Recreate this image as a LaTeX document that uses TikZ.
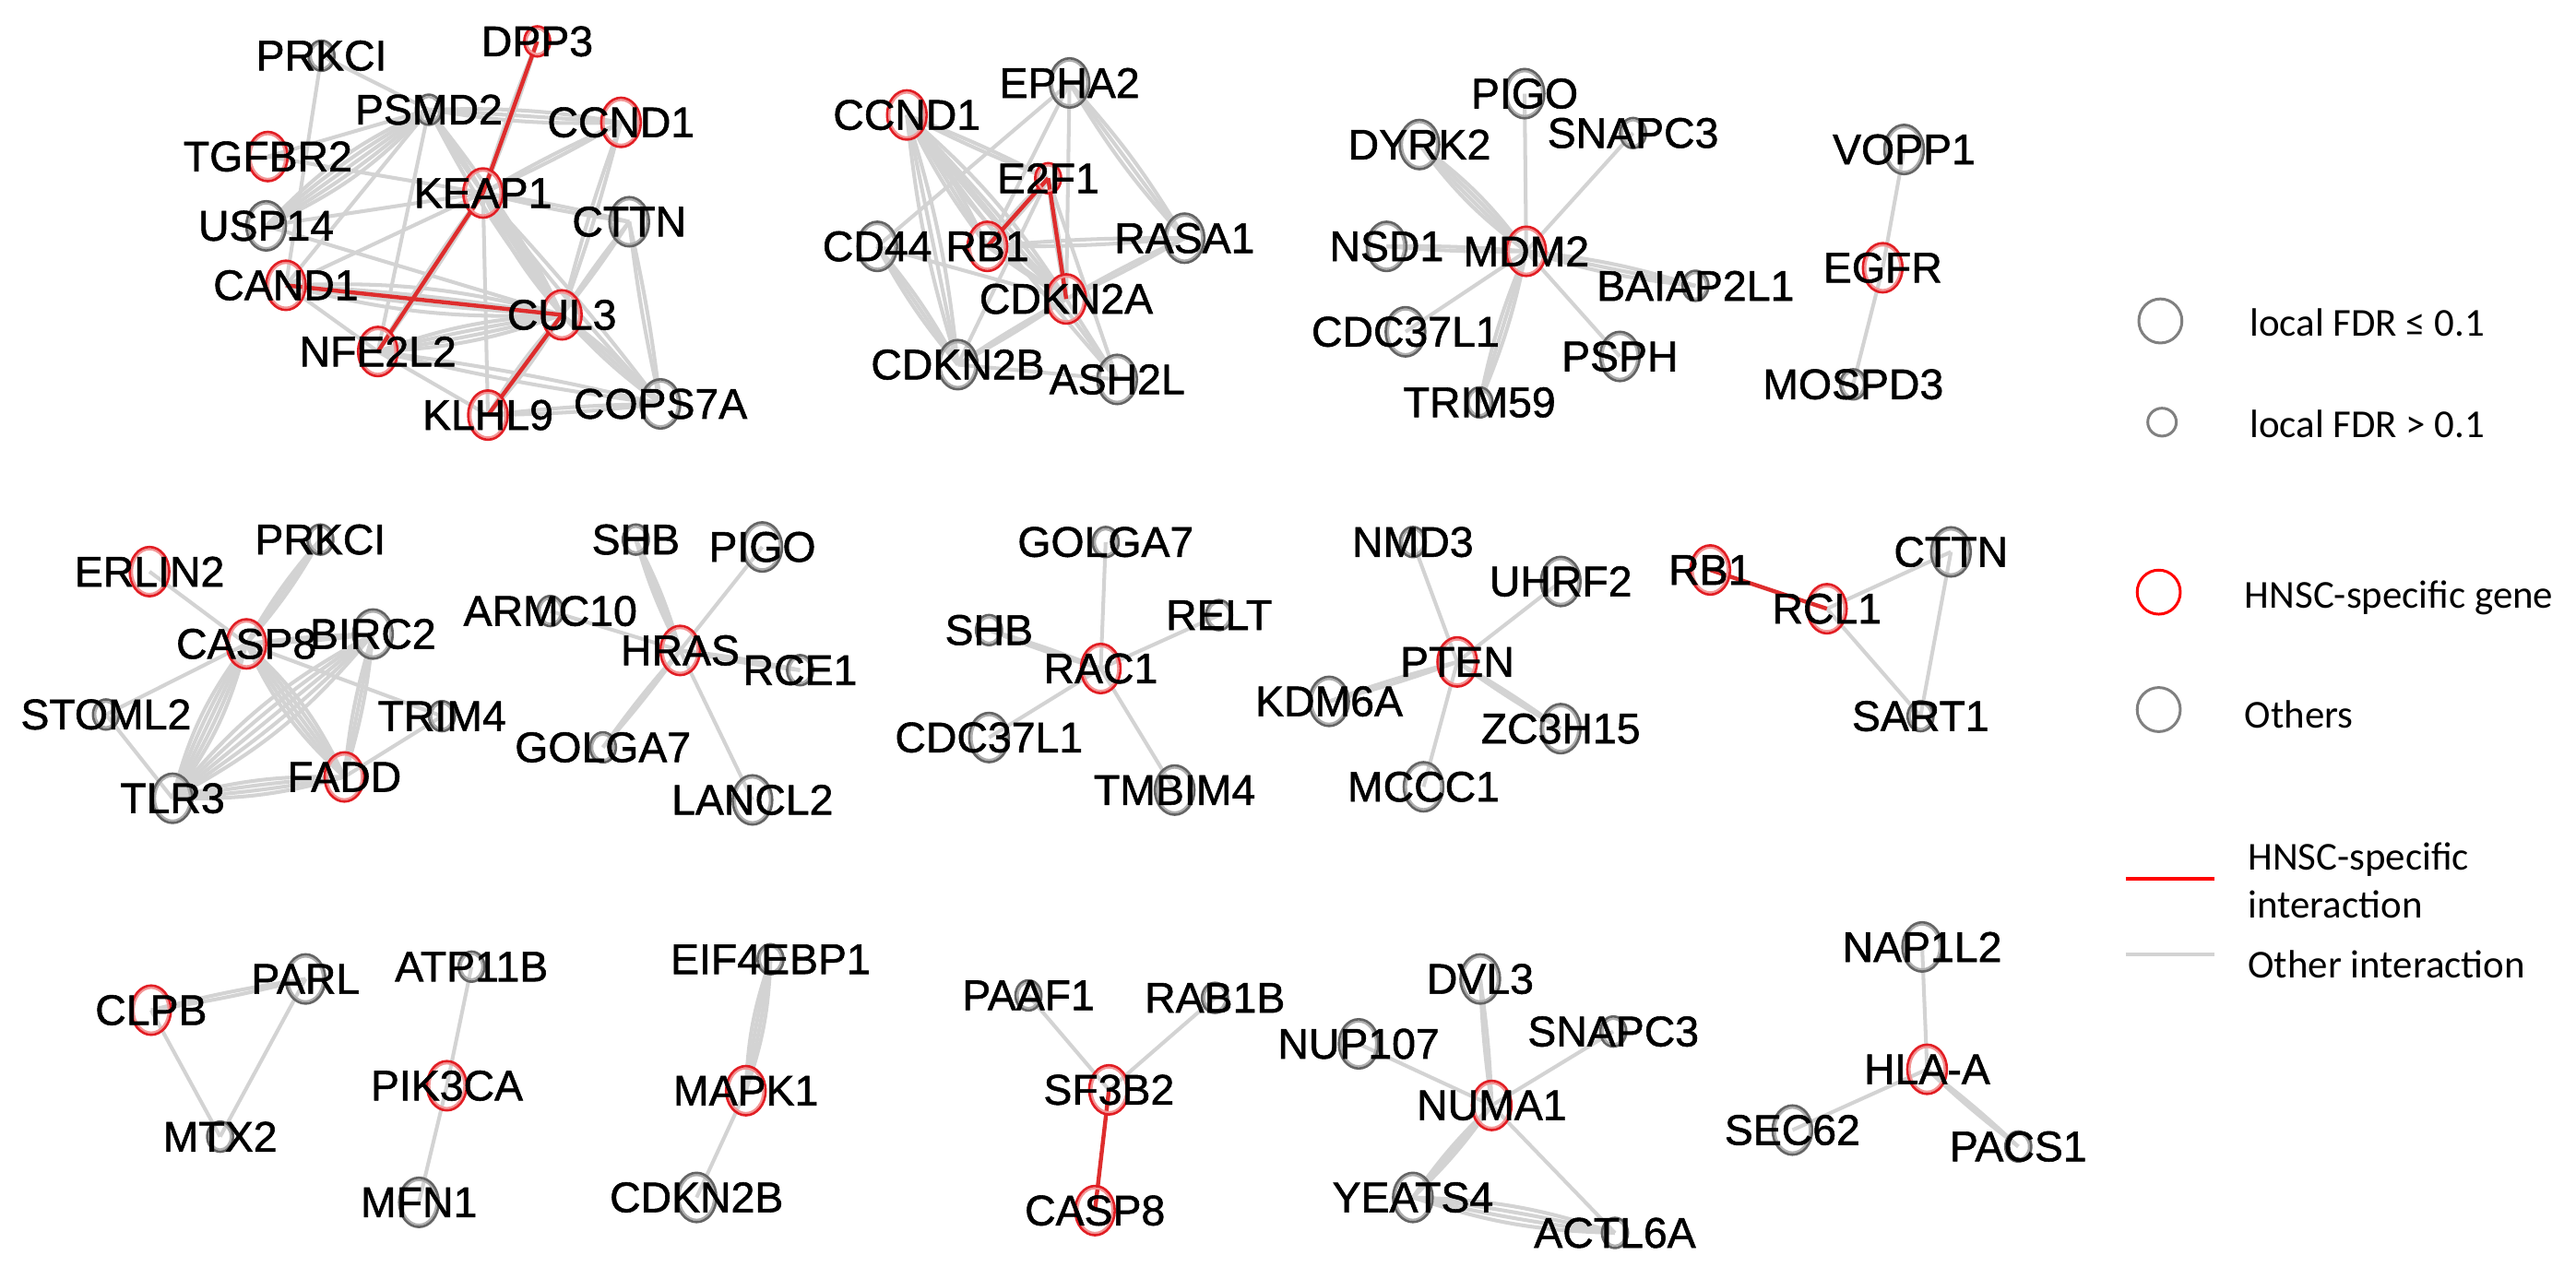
\documentclass[tikz,border=0pt]{standalone}
\usepackage{fontspec}
\setmainfont{Carlito}
\newfontfamily\labfont[FakeBold=1.2]{Liberation Sans}
\usetikzlibrary{shapes.geometric}
\pgfdeclarelayer{bg}
\pgfsetlayers{bg,main}
\definecolor{ngo}{RGB}{100,100,100}
\definecolor{ngi}{RGB}{175,175,175}
\definecolor{nro}{RGB}{226,30,36}
\definecolor{nri}{RGB}{242,150,150}
\definecolor{eg}{RGB}{211,211,211}
\definecolor{er}{RGB}{222,45,45}
\definecolor{lgr}{RGB}{128,128,128}
\definecolor{lrd}{RGB}{255,0,0}
\tikzset{
  vtx/.style={ellipse, inner sep=0pt, outer sep=0pt, line width=0.75pt},
  L/.style={vtx, minimum width=12.2pt, minimum height=15.2pt},
  S/.style={vtx, minimum width=8pt, minimum height=9.3pt},
  gL/.style={L, draw=ngo, path picture={\draw[ngi, line width=0.65pt] (path picture bounding box.center) ellipse (5.4pt and 6.9pt);}},
  rL/.style={L, draw=nro, path picture={\draw[nri, line width=0.65pt] (path picture bounding box.center) ellipse (5.4pt and 6.9pt);}},
  gS/.style={S, draw=ngo, path picture={\draw[ngi, line width=0.65pt] (path picture bounding box.center) ellipse (3.3pt and 3.95pt);}},
  rS/.style={S, draw=nro, path picture={\draw[nri, line width=0.65pt] (path picture bounding box.center) ellipse (3.3pt and 3.95pt);}},
  lab/.style={inner sep=0pt, font=\labfont\fontsize{13.2}{13.5}\selectfont},
  ge/.style={draw=eg, line width=1.15pt},
  re/.style={draw=er, line width=1.25pt},
  legc/.style={ellipse, inner sep=0pt, outer sep=0pt, line width=0.85pt},
  legbig/.style={legc, minimum width=13.3pt, minimum height=13.6pt},
  legsml/.style={legc, minimum width=8.8pt, minimum height=8.6pt},
  legt/.style={anchor=west, inner sep=0pt, align=left, font=\fontsize{12.2}{15}\selectfont},
}
\newcommand\gene[5]{\node[#4,label={[lab]center:#5}] (#1) at (#2,#3) {};}
\newcommand\ged[3]{\foreach \k in {1,...,#3}{\pgfmathsetmacro\bb{(\k-(#3+1)/2)*5.5}\draw[ge] (#1.center) to[bend left=\bb] (#2.center);}}
\newcommand\rge[2]{\draw[re] (#1.center) -- (#2.center);}
\begin{document}
\begin{tikzpicture}[x=0.017813cm, y=-0.017813cm]
\useasboundingbox (0,0) rectangle (1568,771);
\begin{pgfonlayer}{bg}
\fill[white] (0,0) rectangle (1568,771);
\end{pgfonlayer}
% ---------- cluster 1
\gene{prkcia}{195.7}{33.9}{gS}{PRKCI}
\gene{dpp3}{327}{25.2}{rS}{DPP3}
\gene{psmd2}{261}{66.8}{gS}{PSMD2}
\gene{ccnda}{378}{74.5}{rL}{CCND1}
\gene{tgfbr2}{163}{95.3}{rL}{TGFBR2}
\gene{keap1}{294}{117.5}{rL}{KEAP1}
\gene{usp14}{162}{137.5}{gL}{USP14}
\gene{cttna}{383}{135}{gL}{CTTN}
\gene{cand1}{174}{173.7}{rL}{CAND1}
\gene{cul3}{342}{191.7}{rL}{CUL3}
\gene{nfe2l2}{230}{214}{rL}{NFE2L2}
\gene{klhl9}{297}{252.7}{rL}{KLHL9}
\gene{cops7a}{402}{245.9}{gL}{COPS7A}
% ---------- cluster 2
\gene{epha2}{651}{50.5}{gL}{EPHA2}
\gene{ccndb}{552}{70}{rL}{CCND1}
\gene{e2f1}{638}{108.5}{rS}{E2F1}
\gene{cd44}{534}{150}{gL}{CD44}
\gene{rb1a}{601}{150}{rL}{RB1}
\gene{rasa1}{721}{145}{gL}{RASA1}
\gene{cdkn2a}{649}{182}{rL}{CDKN2A}
\gene{cdkn2ba}{583}{222}{gL}{CDKN2B}
\gene{ash2l}{680}{231}{gL}{ASH2L}
% ---------- cluster 3
\gene{pigoa}{928}{57}{gL}{PIGO}
\gene{dyrk2}{864}{88}{gL}{DYRK2}
\gene{snapca}{994}{81}{gS}{SNAPC3}
\gene{nsd1}{844}{150}{gL}{NSD1}
\gene{mdm2}{929}{153}{rL}{MDM2}
\gene{baiap}{1032}{174}{gS}{BAIAP2L1}
\gene{cdca}{855.5}{202}{gL}{CDC37L1}
\gene{psph}{986}{217}{gL}{PSPH}
\gene{trim59}{900.6}{245}{gS}{TRIM59}
\gene{vopp1}{1159}{91}{gL}{VOPP1}
\gene{egfr}{1146}{163}{rL}{EGFR}
\gene{mospd3}{1128}{234}{gS}{MOSPD3}
% ---------- row 2
\gene{erlin2}{91}{348}{rL}{ERLIN2}
\gene{prkcib}{195}{328.5}{gS}{PRKCI}
\gene{casp8a}{150}{392}{rL}{CASP8}
\gene{birc2}{227}{386}{gL}{BIRC2}
\gene{stoml2}{64.5}{435}{gS}{STOML2}
\gene{trim4}{269}{436}{gS}{TRIM4}
\gene{tlr3}{105}{486}{gL}{TLR3}
\gene{fadd}{209.6}{473}{rL}{FADD}
\gene{shba}{387}{328.5}{gS}{SHB}
\gene{pigob}{464}{333}{gL}{PIGO}
\gene{armc10}{335}{372}{gS}{ARMC10}
\gene{hras}{414}{396}{rL}{HRAS}
\gene{rce1}{487}{408}{gS}{RCE1}
\gene{golgaa}{367}{455}{gS}{GOLGA7}
\gene{lancl2}{458}{487}{gL}{LANCL2}
\gene{golgab}{673}{330}{gS}{GOLGA7}
\gene{shbb}{602}{383.6}{gS}{SHB}
\gene{relt}{742}{374.5}{gS}{RELT}
\gene{rac1}{670}{407}{rL}{RAC1}
\gene{cdcb}{602}{449}{gL}{CDC37L1}
\gene{tmbim4}{715}{481}{gL}{TMBIM4}
\gene{nmd3}{860}{330}{gS}{NMD3}
\gene{uhrf2}{950}{354}{gL}{UHRF2}
\gene{pten}{887}{403}{rL}{PTEN}
\gene{kdm6a}{809}{427}{gL}{KDM6A}
\gene{zc3h15}{950}{443.6}{gL}{ZC3H15}
\gene{mccc1}{866.5}{479}{gL}{MCCC1}
\gene{rb1b}{1041}{347}{rL}{RB1}
\gene{rcl1}{1112}{370.6}{rL}{RCL1}
\gene{cttnb}{1187.5}{336}{gL}{CTTN}
\gene{sart1}{1169}{436}{gS}{SART1}
% ---------- row 3
\gene{parl}{186}{596}{gL}{PARL}
\gene{clpb}{92}{615}{rL}{CLPB}
\gene{mtx2}{134}{692}{gS}{MTX2}
\gene{atp11b}{287}{588.5}{gS}{ATP11B}
\gene{pik3ca}{272}{661}{rL}{PIK3CA}
\gene{mfn1}{255}{732}{gL}{MFN1}
\gene{eif4ebp1}{469}{584}{gS}{EIF4EBP1}
\gene{mapk1}{454}{664}{rL}{MAPK1}
\gene{cdkn2bb}{424}{729}{gL}{CDKN2B}
\gene{paaf1}{626}{606}{gS}{PAAF1}
\gene{rab1b}{739.5}{607.5}{gS}{RAB1B}
\gene{sf3b2}{675}{663.5}{rL}{SF3B2}
\gene{casp8b}{666.5}{737}{rL}{CASP8}
\gene{dvl3}{901}{596}{gL}{DVL3}
\gene{nup107}{827}{635.5}{gL}{NUP107}
\gene{snapcb}{982}{628}{gS}{SNAPC3}
\gene{numa1}{908}{673}{rL}{NUMA1}
\gene{yeats4}{860}{729}{gL}{YEATS4}
\gene{actl6a}{983}{750.6}{gS}{ACTL6A}
\gene{nap1l2}{1170}{576.5}{gL}{NAP1L2}
\gene{hlaa}{1173}{651}{rL}{HLA-A}
\gene{sec62}{1091}{688}{gL}{SEC62}
\gene{pacs1}{1228.5}{698}{gS}{PACS1}
% ---------- edges
\begin{pgfonlayer}{bg}
% cluster 1
\ged{prkcia}{psmd2}{1}
\ged{prkcia}{cand1}{1}
\ged{psmd2}{tgfbr2}{1}
\ged{psmd2}{usp14}{5}
\ged{psmd2}{cand1}{1}
\ged{psmd2}{ccnda}{3}
\ged{psmd2}{keap1}{2}
\ged{psmd2}{cul3}{3}
\ged{psmd2}{nfe2l2}{1}
\ged{tgfbr2}{keap1}{1}
\ged{usp14}{keap1}{1}
\ged{usp14}{cul3}{1}
\ged{cand1}{keap1}{1}
\ged{cand1}{cul3}{4}
\ged{cand1}{nfe2l2}{1}
\ged{keap1}{nfe2l2}{2}
\ged{keap1}{cul3}{4}
\ged{keap1}{klhl9}{1}
\ged{keap1}{cttna}{2}
\ged{keap1}{ccnda}{2}
\ged{keap1}{dpp3}{2}
\ged{ccnda}{cul3}{2}
\ged{cttna}{cul3}{2}
\ged{cttna}{cops7a}{2}
\ged{cul3}{cops7a}{3}
\ged{cul3}{nfe2l2}{4}
\ged{cul3}{klhl9}{3}
\ged{nfe2l2}{cops7a}{2}
\ged{nfe2l2}{klhl9}{1}
\ged{klhl9}{cops7a}{2}
\ged{keap1}{cops7a}{2}
\rge{cand1}{cul3}
\rge{keap1}{nfe2l2}
\rge{keap1}{dpp3}
\rge{cul3}{klhl9}
% cluster 2
\ged{epha2}{cd44}{1}
\ged{epha2}{rb1a}{1}
\ged{epha2}{cdkn2a}{1}
\ged{epha2}{rasa1}{3}
\ged{ccndb}{cdkn2ba}{3}
\ged{ccndb}{rb1a}{3}
\ged{ccndb}{e2f1}{2}
\ged{ccndb}{cdkn2a}{4}
\ged{ccndb}{ash2l}{2}
\ged{e2f1}{rb1a}{3}
\ged{e2f1}{cdkn2a}{2}
\ged{e2f1}{cdkn2ba}{1}
\ged{e2f1}{ash2l}{1}
\ged{cd44}{cdkn2ba}{3}
\ged{cd44}{cdkn2a}{1}
\ged{rb1a}{rasa1}{2}
\ged{rb1a}{cdkn2a}{2}
\ged{rasa1}{cdkn2a}{2}
\ged{cdkn2a}{cdkn2ba}{2}
\ged{cdkn2a}{ash2l}{1}
\ged{cdkn2ba}{ash2l}{1}
\rge{e2f1}{rb1a}
\rge{e2f1}{cdkn2a}
% cluster 3
\ged{mdm2}{pigoa}{1}
\ged{mdm2}{dyrk2}{4}
\ged{mdm2}{snapca}{1}
\ged{mdm2}{nsd1}{2}
\ged{mdm2}{baiap}{3}
\ged{mdm2}{cdca}{1}
\ged{mdm2}{psph}{1}
\ged{mdm2}{trim59}{3}
\ged{vopp1}{egfr}{1}
\ged{egfr}{mospd3}{1}
% casp8 cluster
\ged{erlin2}{casp8a}{1}
\ged{prkcib}{casp8a}{3}
\ged{casp8a}{birc2}{2}
\ged{casp8a}{stoml2}{1}
\ged{casp8a}{trim4}{1}
\ged{casp8a}{tlr3}{5}
\ged{casp8a}{fadd}{5}
\ged{birc2}{tlr3}{5}
\ged{birc2}{fadd}{3}
\ged{trim4}{fadd}{1}
\ged{stoml2}{tlr3}{1}
\ged{tlr3}{fadd}{4}
% hras
\ged{shba}{hras}{3}
\ged{pigob}{hras}{1}
\ged{armc10}{hras}{1}
\ged{hras}{rce1}{2}
\ged{hras}{golgaa}{2}
\ged{hras}{lancl2}{1}
% rac1
\ged{golgab}{rac1}{1}
\ged{shbb}{rac1}{2}
\ged{relt}{rac1}{1}
\ged{cdcb}{rac1}{1}
\ged{tmbim4}{rac1}{1}
% pten
\ged{nmd3}{pten}{1}
\ged{uhrf2}{pten}{1}
\ged{kdm6a}{pten}{2}
\ged{zc3h15}{pten}{2}
\ged{mccc1}{pten}{1}
% rcl1
\ged{rcl1}{cttnb}{1}
\ged{rcl1}{sart1}{1}
\ged{cttnb}{sart1}{1}
\rge{rb1b}{rcl1}
% row 3
\ged{clpb}{parl}{2}
\ged{clpb}{mtx2}{1}
\ged{parl}{mtx2}{1}
\ged{atp11b}{pik3ca}{1}
\ged{pik3ca}{mfn1}{1}
\ged{eif4ebp1}{mapk1}{4}
\ged{mapk1}{cdkn2bb}{1}
\ged{paaf1}{sf3b2}{1}
\ged{rab1b}{sf3b2}{1}
\rge{sf3b2}{casp8b}
\ged{dvl3}{numa1}{2}
\ged{nup107}{numa1}{1}
\ged{snapcb}{numa1}{1}
\ged{numa1}{yeats4}{3}
\ged{numa1}{actl6a}{1}
\ged{yeats4}{actl6a}{4}
\ged{nap1l2}{hlaa}{1}
\ged{sec62}{hlaa}{1}
\ged{hlaa}{pacs1}{2}
\end{pgfonlayer}
% ---------- legend
\node[legbig, draw=lgr] (lg1) at (1315,195.4) {};
\node[legt] (lt1) at (1369,196.5) {local FDR ≤ 0.1};
\node[legsml, draw=lgr] (lg2) at (1316,257) {};
\node[legt] (lt2) at (1369,258) {local FDR > 0.1};
\node[legbig, draw=lrd] (lg3) at (1314,360.5) {};
\node[legt] (lt3) at (1366,364) {HNSC-specific gene};
\node[legbig, draw=lgr] (lg4) at (1314,432) {};
\node[legt] (lt4) at (1366,435) {Others};
\coordinate (lra) at (1294,535);
\coordinate (lrb) at (1348,535);
\draw[draw=lrd, line width=1.3pt] (lra) -- (lrb);
\node[legt] (lt5) at (1368,536) {HNSC-specific\\interaction};
\coordinate (lga) at (1294,581);
\coordinate (lgb) at (1348,581);
\draw[draw=eg, line width=1.3pt] (lga) -- (lgb);
\node[legt] (lt6) at (1368,587) {Other interaction};
\end{tikzpicture}
\end{document}
